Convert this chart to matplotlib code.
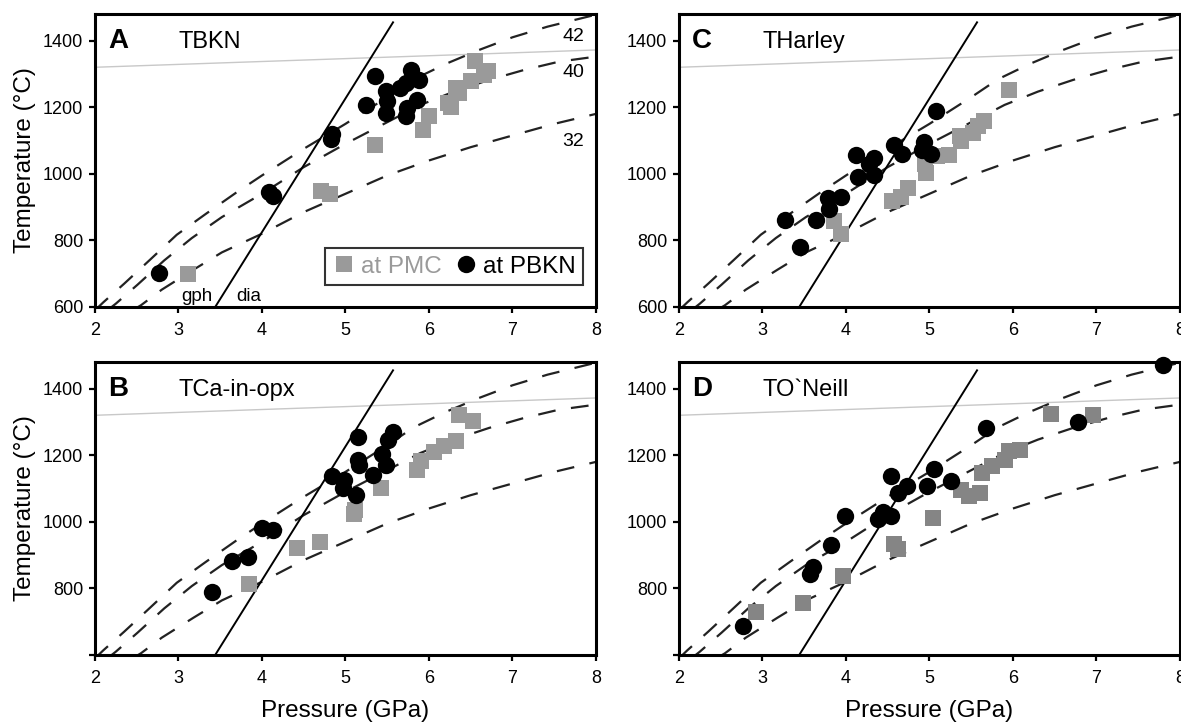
import matplotlib
matplotlib.use("Agg")
import matplotlib.pyplot as plt
from matplotlib.lines import Line2D

plt.rcParams['font.family'] = ['Liberation Sans', 'DejaVu Sans']

# ---- reference lines ----
# graphite / diamond boundary
gd_p = [3.44, 5.57]
gd_t = [600, 1455]
# light grey adiabat
ad_p = [2.0, 8.0]
ad_t = [1320, 1372]

# geotherms, mW/m2
g42_p = [2.00, 2.10, 2.35, 2.66, 2.98, 3.33, 3.70, 4.00, 4.50, 5.00, 5.50, 5.82, 6.20, 6.60, 7.00, 7.42, 8.00]
g42_t = [590, 614, 670, 742, 817, 880, 945, 995, 1075, 1150, 1230, 1284, 1330, 1372, 1410, 1442, 1478]
g40_p = [2.15, 2.25, 2.51, 2.83, 3.16, 3.52, 4.00, 4.50, 5.00, 5.50, 5.90, 6.30, 6.72, 7.14, 7.56, 8.00]
g40_t = [590, 610, 667, 740, 807, 870, 940, 1020, 1090, 1155, 1207, 1247, 1282, 1312, 1337, 1352]
g32_p = [2.45, 2.55, 2.80, 3.18, 3.52, 4.00, 4.50, 5.00, 5.50, 6.00, 6.50, 7.00, 7.50, 8.00]
g32_t = [590, 605, 652, 712, 764, 820, 885, 940, 995, 1040, 1080, 1115, 1150, 1180]

# ---- panel A: TBKN ----
a_pmc_p = [3.12, 4.71, 4.81, 5.35, 5.93, 6.00, 6.23, 6.27, 6.32, 6.36, 6.50, 6.55, 6.66, 6.71]
a_pmc_t = [698, 948, 940, 1088, 1133, 1173, 1213, 1200, 1258, 1243, 1278, 1340, 1298, 1308]
a_bkn_p = [2.77, 4.09, 4.13, 4.84, 4.83, 5.35, 5.25, 5.49, 5.50, 5.49, 5.65, 5.72, 5.79, 5.88, 5.86, 5.74, 5.73]
a_bkn_t = [703, 945, 932, 1120, 1106, 1293, 1208, 1248, 1218, 1183, 1258, 1273, 1313, 1283, 1223, 1198, 1173]

# ---- panel B: TCa-in-opx ----
b_pmc_p = [3.84, 4.42, 4.70, 5.10, 5.11, 5.43, 5.86, 5.91, 6.06, 6.18, 6.32, 6.36, 6.53]
b_pmc_t = [812, 922, 939, 1023, 1037, 1101, 1155, 1182, 1209, 1228, 1243, 1322, 1302]
b_bkn_p = [3.40, 3.64, 3.83, 4.00, 4.13, 4.84, 4.98, 4.97, 5.13, 5.15, 5.15, 5.16, 5.33, 5.44, 5.49, 5.51, 5.57]
b_bkn_t = [790, 882, 895, 980, 976, 1137, 1127, 1101, 1081, 1255, 1186, 1170, 1140, 1204, 1170, 1245, 1271]

# ---- panel C: THarley ----
c_pmc_p = [3.86, 3.94, 4.55, 4.66, 4.74, 4.95, 4.96, 5.09, 5.23, 5.36, 5.38, 5.52, 5.58, 5.65, 5.95]
c_pmc_t = [858, 818, 918, 930, 956, 1028, 1003, 1053, 1056, 1113, 1098, 1123, 1143, 1158, 1253]
c_bkn_p = [3.27, 3.45, 3.64, 3.79, 3.80, 3.94, 4.12, 4.15, 4.28, 4.34, 4.33, 4.58, 4.67, 4.94, 4.91, 5.02, 5.08]
c_bkn_t = [861, 780, 861, 928, 893, 930, 1056, 990, 1028, 1048, 996, 1088, 1060, 1096, 1073, 1060, 1188]

# ---- panel D: TO`Neill ----
d_pmc_p = [2.92, 3.49, 3.96, 4.58, 4.62, 5.04, 5.38, 5.47, 5.60, 5.63, 5.75, 5.91, 5.95, 6.09, 6.46, 6.96]
d_pmc_t = [730, 755, 838, 934, 919, 1010, 1097, 1078, 1088, 1147, 1167, 1187, 1212, 1217, 1324, 1321]
d_bkn_p = [2.77, 3.57, 3.61, 3.82, 3.99, 4.38, 4.44, 4.54, 4.54, 4.62, 4.73, 4.97, 5.05, 5.26, 5.68, 6.78, 7.80]
d_bkn_t = [686, 844, 864, 931, 1018, 1008, 1030, 1018, 1137, 1088, 1109, 1107, 1159, 1122, 1281, 1301, 1472]

x_ticks = [2, 3, 4, 5, 6, 7, 8]
y_ticks = [600, 800, 1000, 1200, 1400]

GREY = '#9a9a9a'


def draw_panel(ax, letter, name, pmc_p, pmc_t, bkn_p, bkn_t, sq_col=GREY, show600=True):
    ax.plot(ad_p, ad_t, color='#c8c8c8', lw=1.0, zorder=1)
    for gp, gt in [(g42_p, g42_t), (g40_p, g40_t), (g32_p, g32_t)]:
        ax.plot(gp, gt, color='#222222', lw=1.6, ls=(0, (8, 7)), zorder=2)
    ax.plot(gd_p, gd_t, color='black', lw=1.4, zorder=2)
    ax.plot(pmc_p, pmc_t, ls='none', marker='s', ms=12, color=sq_col,
            mew=0, zorder=3)
    ax.plot(bkn_p, bkn_t, ls='none', marker='o', ms=12.5, color='black',
            mew=0, zorder=4, clip_on=False)

    ax.set_xlim(2, 8)
    ax.set_ylim(600, 1480)
    ax.set_xticks(x_ticks)
    ax.set_yticks(y_ticks)
    ylabs = [str(v) for v in y_ticks]
    if not show600:
        ylabs[0] = ''
    ax.set_yticklabels(ylabs)
    ax.tick_params(direction='out', length=4, width=1.6, labelsize=13, pad=4.5)
    ax.tick_params(axis='x', pad=6.5)
    for s in ax.spines.values():
        s.set_linewidth(2.2)

    ax.text(0.026, 0.884, letter, transform=ax.transAxes, fontsize=20,
            fontweight='bold', va='baseline', ha='left')
    ax.text(0.166, 0.884, name, transform=ax.transAxes, fontsize=17,
            va='baseline', ha='left')


fig = plt.figure(figsize=(11.81, 7.22), dpi=100)
axA = fig.add_axes([0.0804, 0.5748, 0.4242, 0.4058])
axB = fig.add_axes([0.0804, 0.0928, 0.4242, 0.4058])
axC = fig.add_axes([0.5749, 0.5748, 0.4242, 0.4058])
axD = fig.add_axes([0.5749, 0.0928, 0.4242, 0.4058])

draw_panel(axA, 'A', 'TBKN', a_pmc_p, a_pmc_t, a_bkn_p, a_bkn_t)
draw_panel(axB, 'B', 'TCa-in-opx', b_pmc_p, b_pmc_t, b_bkn_p, b_bkn_t, show600=False)
draw_panel(axC, 'C', 'THarley', c_pmc_p, c_pmc_t, c_bkn_p, c_bkn_t)
draw_panel(axD, 'D', 'TO`Neill', d_pmc_p, d_pmc_t, d_bkn_p, d_bkn_t,
           sq_col='#858585', show600=False)

# geotherm labels and graphite/diamond labels in A
for lab, t in [('42', 1412), ('40', 1303), ('32', 1097)]:
    axA.text(7.86, t, lab, fontsize=14, ha='right', va='center')
axA.text(3.22, 632, 'gph', fontsize=13.5, ha='center', va='center')
axA.text(3.84, 632, 'dia', fontsize=13.5, ha='center', va='center')

# legend
handles = [Line2D([], [], ls='none', marker='s', ms=11, color=GREY, mew=0),
           Line2D([], [], ls='none', marker='o', ms=12.5, color='black', mew=0)]
leg = axA.legend(handles, ['at PMC', 'at PBKN'], ncol=2, loc='lower right',
                 bbox_to_anchor=(0.975, 0.075), fontsize=17.5, frameon=True,
                 fancybox=False, handlelength=1.0, handletextpad=0.2,
                 columnspacing=0.5, borderpad=0.3, borderaxespad=0)
leg.get_frame().set_edgecolor('black')
leg.get_frame().set_linewidth(1.5)
leg.get_texts()[0].set_color(GREY)

for ax in (axA, axB):
    ax.set_ylabel('Temperature (°C)', fontsize=17.5, labelpad=5)
for ax in (axB, axD):
    ax.set_xlabel('Pressure (GPa)', fontsize=17.5, labelpad=10)

fig.savefig('out.png', dpi=100)
